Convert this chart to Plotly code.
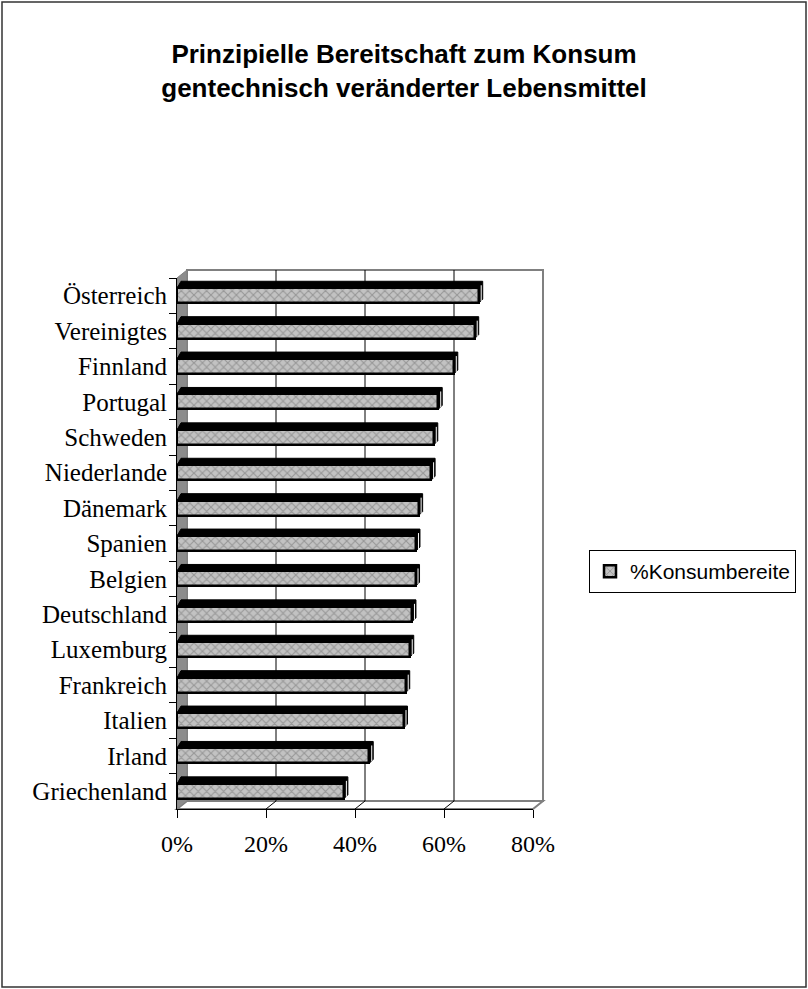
import plotly.graph_objects as go

# Daten
laender = ["Österreich", "Vereinigtes", "Finnland", "Portugal", "Schweden",
           "Niederlande", "Dänemark", "Spanien", "Belgien", "Deutschland",
           "Luxemburg", "Frankreich", "Italien", "Irland", "Griechenland"]
werte = [67.8, 66.9, 62.2, 58.7, 57.7, 57.1, 54.3, 53.7, 53.6, 52.8,
         52.3, 51.4, 50.9, 43.2, 37.5]
x_ticks = [0, 20, 40, 60, 80]
x_ticktext = ["0%", "20%", "40%", "60%", "80%"]
serie = "%Konsumbereite"
titel = "Prinzipielle Bereitschaft zum Konsum<br>gentechnisch veränderter Lebensmittel"

# Layout-Geometrie (Pixel)
W, H = 808, 989
L, R, T, B = 177, 533, 278, 809      # vordere Diagrammebene
DX, DY = 10, 8                       # Tiefe der Wände
BAR_W = 0.42                         # Balkendicke (Kategorieeinheiten)
BDX, BDY_TOP, BDY_BOT = 4, 7, 4      # Tiefe der Balken

pw, ph = R - L, B - T


def xp(px):
    return (px - L) / pw


def yp(py):
    return (B - py) / ph


pitch = ph / len(laender)
h = BAR_W * pitch
dxd = BDX * (x_ticks[-1] - x_ticks[0]) / pw

GRAU = "#808080"
shapes = []

# Rahmen um das gesamte Diagramm
shapes.append(dict(type="rect", xref="paper", yref="paper",
                   x0=xp(2), x1=xp(806), y0=yp(987), y1=yp(2),
                   line=dict(color="#333333", width=1.5), layer="below"))
# Rückwand
shapes.append(dict(type="rect", xref="paper", yref="paper",
                   x0=xp(L + DX), x1=xp(R + DX), y0=yp(B - DY), y1=yp(T - DY),
                   fillcolor="white", line=dict(color=GRAU, width=2), layer="below"))
# Boden
shapes.append(dict(type="path", xref="paper", yref="paper",
                   path=(f"M{xp(L)},{yp(B)} L{xp(L + DX)},{yp(B - DY)} "
                         f"L{xp(R + DX)},{yp(B - DY)} L{xp(R)},{yp(B)} Z"),
                   fillcolor="white", line=dict(color=GRAU, width=2), layer="below"))
# Seitenwand links
shapes.append(dict(type="path", xref="paper", yref="paper",
                   path=(f"M{xp(L)},{yp(T)} L{xp(L + DX)},{yp(T - DY)} "
                         f"L{xp(L + DX)},{yp(B - DY)} L{xp(L)},{yp(B)} Z"),
                   fillcolor="#8c8c8c", line=dict(color=GRAU, width=1), layer="below"))
# Gitternetzlinien auf Rückwand und Boden
for t in x_ticks[1:-1]:
    shapes.append(dict(type="line", xref="x", yref="paper", xsizemode="pixel",
                       xanchor=t, x0=DX, x1=DX, y0=yp(B - DY), y1=yp(T - DY),
                       line=dict(color="black", width=1), layer="below"))
    shapes.append(dict(type="line", xref="x", yref="paper", xsizemode="pixel",
                       xanchor=t, x0=DX, x1=0, y0=yp(B - DY), y1=0,
                       line=dict(color="black", width=1), layer="below"))

# Ober- und Seitenflächen der Balken
for name, v in zip(laender, werte):
    shapes.append(dict(
        type="path", xref="x", yref="y", ysizemode="pixel", yanchor=name,
        path=(f"M0,{h / 2} L{v},{h / 2} L{v},{-h / 2} "
              f"L{v + dxd},{-h / 2 + BDY_BOT} L{v + dxd},{h / 2 + BDY_TOP} "
              f"L{dxd},{h / 2 + BDY_TOP} Z"),
        fillcolor="black", line=dict(color="black", width=1), layer="below"))
    shapes.append(dict(
        type="line", xref="x", yref="y", xsizemode="pixel", ysizemode="pixel",
        xanchor=v, yanchor=name, x0=BDX / 2 + 0.5, x1=BDX / 2 + 0.5,
        y0=h / 2 + 3, y1=-h / 2 + 2,
        line=dict(color="white", width=1), layer="below"))

fig = go.Figure(go.Bar(
    y=laender, x=werte, orientation="h", width=BAR_W, name=serie,
    showlegend=True, hoverinfo="x+y",
    marker=dict(color="#b8b8b8",
                line=dict(color="black", width=2.5),
                pattern=dict(shape="x", fgcolor="#6e6e6e", bgcolor="#c2c2c2",
                             size=6, solidity=0.35)),
))

serif_x = dict(family="Liberation Serif, Times New Roman, serif", size=24, color="black")
serif_y = dict(family="Liberation Serif, Times New Roman, serif", size=25, color="black")

fig.update_layout(
    width=W, height=H,
    margin=dict(l=L, r=W - R, t=T, b=H - B, pad=0),
    paper_bgcolor="white", plot_bgcolor="rgba(0,0,0,0)",
    title=dict(text=titel, x=0.5, xref="container", xanchor="center",
               y=1 - 63 / H, yref="container", yanchor="top",
               font=dict(family="Liberation Sans, Arial, sans-serif", size=26,
                         color="black", weight="bold")),
    xaxis=dict(range=[x_ticks[0], x_ticks[-1]], tickmode="array",
               tickvals=x_ticks, ticktext=x_ticktext,
               showgrid=False, zeroline=False, showline=True, linecolor="black",
               linewidth=1, ticks="outside", ticklen=8, tickcolor="black",
               tickfont=serif_x, ticklabelstandoff=5, automargin=False),
    yaxis=dict(type="category", categoryorder="array", categoryarray=laender,
               range=[len(laender) - 0.5, -0.5], tickson="boundaries",
               showgrid=False, zeroline=False, showline=True, linecolor="black",
               linewidth=1, ticks="outside", ticklen=7, tickcolor="black",
               tickfont=serif_y, ticklabelstandoff=4, automargin=False),
    legend=dict(x=xp(589), y=yp(550), xanchor="left", yanchor="top",
                bgcolor="white", bordercolor="black", borderwidth=1,
                font=dict(family="Liberation Sans, Arial, sans-serif", size=21,
                          color="black")),
    shapes=shapes,
    bargap=0,
)

fig.write_html("out.html")
